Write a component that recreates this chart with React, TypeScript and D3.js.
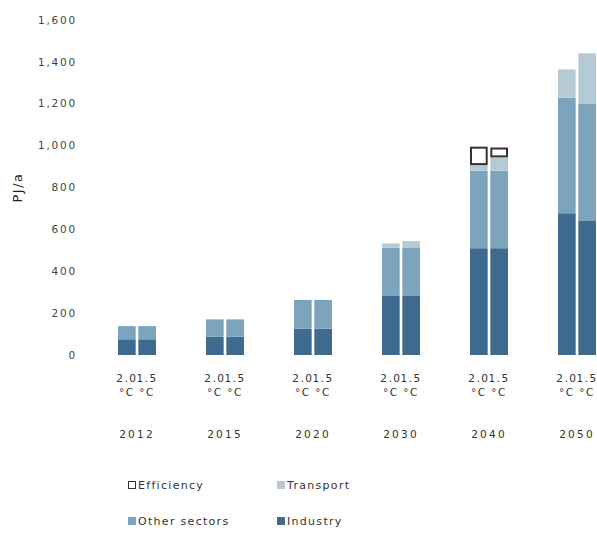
import { useEffect, useRef } from 'react';
import * as d3 from 'd3';

const years = ['2012', '2015', '2020', '2030', '2040', '2050'];
const scenarios = ['2.0', '1.5'];
const seriesKeys = ['industry', 'other', 'transport', 'efficiency'];
const seriesNames = ['Industry', 'Other sectors', 'Transport', 'Efficiency'];

// values per year, scenario order [2.0 °C, 1.5 °C]
const industry = [[75, 75], [87, 87], [126, 126], [282, 282], [510, 510], [677, 640]];
const otherSectors = [[63, 63], [83, 83], [137, 137], [230, 232], [370, 370], [552, 559]];
const transport = [[0, 0], [0, 0], [0, 0], [21, 30], [27, 64], [135, 242]];
const efficiency = [[0, 0], [0, 0], [0, 0], [0, 0], [88, 47], [0, 0]];

const yTicks = [0, 200, 400, 600, 800, 1000, 1200, 1400, 1600];

const colors: Record<string, string> = {
    industry: '#3e6b8f',
    other: '#7ca5bd',
    transport: '#b6cad6',
    efficiency: '#ffffff',
};

type Row = { year: string; scenario: string; [k: string]: number | string };

const App = () => {
    const svgRef = useRef<SVGSVGElement | null>(null);

    useEffect(() => {
        if (!svgRef.current) return;
        const svg = d3.select(svgRef.current);
        svg.selectAll('*').remove();

        const font = '"DejaVu Sans", Verdana, sans-serif';

        const rows: Row[] = [];
        years.forEach((yr, i) => {
            scenarios.forEach((sc, j) => {
                rows.push({
                    year: yr,
                    scenario: sc,
                    industry: industry[i][j],
                    other: otherSectors[i][j],
                    transport: transport[i][j],
                    efficiency: efficiency[i][j],
                });
            });
        });

        const x = d3.scaleBand().domain(years).range([93, 621]).padding(0);
        const xInner = d3.scaleBand().domain(scenarios).range([-19, 19]).paddingInner(0.13);
        const y = d3.scaleLinear().domain([0, 1600]).range([355, 20]);

        const stacked = d3.stack<Row>().keys(seriesKeys).value((d, k) => d[k] as number)(rows);

        // Y tick labels
        svg
            .append('g')
            .selectAll('text')
            .data(yTicks)
            .join('text')
            .attr('x', 77)
            .attr('y', (d) => y(d))
            .attr('dy', '0.35em')
            .attr('text-anchor', 'end')
            .attr('font-family', font)
            .attr('font-size', 10.5)
            .attr('letter-spacing', 1.8)
            .attr('fill', '#444')
            .text((d) => d3.format(',')(d));

        svg
            .append('text')
            .attr('transform', `translate(22,${y(800)}) rotate(-90)`)
            .attr('text-anchor', 'middle')
            .attr('font-family', font)
            .attr('font-size', 13)
            .attr('letter-spacing', 1.5)
            .attr('fill', '#222')
            .text('PJ/a');

        // Bars
        const barX = (d: Row) => (x(d.year) as number) + x.bandwidth() / 2 + (xInner(d.scenario) as number);
        stacked.forEach((layer) => {
            const isEff = layer.key === 'efficiency';
            svg
                .append('g')
                .selectAll('rect')
                .data(layer.filter((s) => s[1] - s[0] > 0))
                .join('rect')
                .attr('x', (s) => barX(s.data) + (isEff ? 1 : 0))
                .attr('width', xInner.bandwidth() - (isEff ? 2 : 0))
                .attr('y', (s) => y(s[1]) + (isEff ? 1 : 0))
                .attr('height', (s) => y(s[0]) - y(s[1]) - (isEff ? 2 : 0))
                .attr('fill', colors[layer.key])
                .attr('stroke', isEff ? '#333' : 'none')
                .attr('stroke-width', isEff ? 2 : 0);
        });

        // Category labels
        const labels = svg
            .append('g')
            .attr('font-family', font)
            .attr('font-size', 10.5)
            .attr('letter-spacing', 1.5)
            .attr('fill', '#333');
        rows.forEach((r) => {
            const cx = barX(r) + xInner.bandwidth() / 2;
            labels.append('text').attr('x', cx).attr('y', 382).attr('text-anchor', 'middle').text(r.scenario);
            labels.append('text').attr('x', cx).attr('y', 396).attr('text-anchor', 'middle').text('°C');
        });
        years.forEach((yr) => {
            labels
                .append('text')
                .attr('x', (x(yr) as number) + x.bandwidth() / 2)
                .attr('y', 438)
                .attr('text-anchor', 'middle')
                .attr('letter-spacing', 2.2)
                .text(yr);
        });

        // Legend
        const legendItems = [
            { key: 'efficiency', name: seriesNames[3], lx: 128, ly: 485 },
            { key: 'transport', name: seriesNames[2], lx: 277, ly: 485 },
            { key: 'other', name: seriesNames[1], lx: 128, ly: 521 },
            { key: 'industry', name: seriesNames[0], lx: 277, ly: 521 },
        ];
        const legend = svg
            .append('g')
            .attr('font-family', font)
            .attr('font-size', 11)
            .attr('letter-spacing', 1.3)
            .attr('fill', '#333');
        legendItems.forEach((it) => {
            const isEff = it.key === 'efficiency';
            legend
                .append('rect')
                .attr('x', it.lx + (isEff ? 0.5 : 0))
                .attr('y', it.ly - 4 + (isEff ? 0.5 : 0))
                .attr('width', isEff ? 7 : 8)
                .attr('height', isEff ? 7 : 8)
                .attr('fill', colors[it.key])
                .attr('stroke', isEff ? '#333' : 'none');
            legend
                .append('text')
                .attr('x', it.lx + 10)
                .attr('y', it.ly)
                .attr('dy', '0.35em')
                .text(it.name);
        });
    }, []);

    return (
        <svg
            ref={svgRef}
            width={597}
            height={538}
            style={{ position: 'absolute', left: 0, top: 0, background: '#fff' }}
        />
    );
};

export default App;
